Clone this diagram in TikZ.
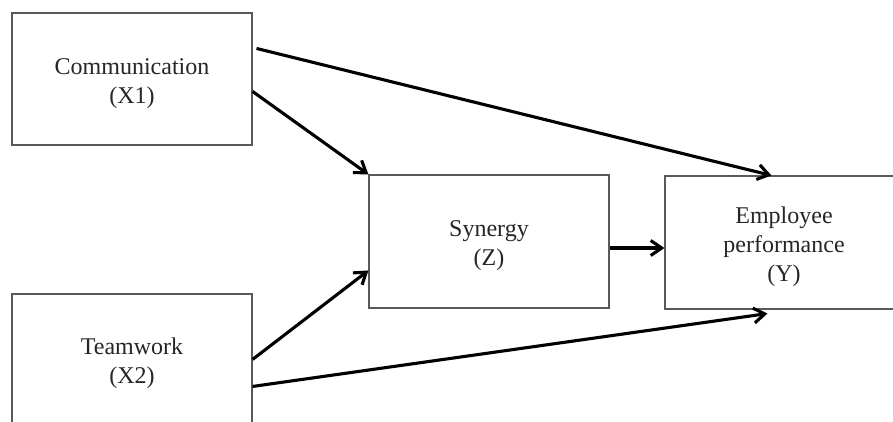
\documentclass[tikz,border=0pt]{standalone}
\usepackage{fontspec}
\setmainfont{Liberation Serif}
\usetikzlibrary{arrows.meta,calc}
\newcommand\mytopstrut{\rule{0pt}{25pt}}
\begin{document}
\begin{tikzpicture}[x=1pt,y=-1pt,
  box/.style={draw=black!65, line width=1.1pt, rectangle, inner sep=0pt, align=center,
    font=\fontsize{24}{29}\selectfont, text=black!85},
  conn/.style={line width=3.1pt, black, -{Straight Barb[length=11pt,width=15pt,line width=3.1pt]}}]
\useasboundingbox (0,0) rectangle (893,421);
\clip (0,0) rectangle (893,421);
\fill[white] (0,0) rectangle (893,421);
\node[box, minimum width=240pt, minimum height=132pt] (c) at (132,79) {\mytopstrut Communication\\(X1)};
\node[box, minimum width=240pt, minimum height=130pt] (t) at (132,359) {\mytopstrut Teamwork\\(X2)};
\node[box, minimum width=240pt, minimum height=133pt] (z) at (489,241.5) {\mytopstrut Synergy\\(Z)};
\node[box, minimum width=238pt, minimum height=133pt] (y) at (784,242.5) {\mytopstrut Employee\\performance\\(Y)};
\draw[conn] ([shift={(4pt,-36pt)}]c.north east) -- ([xshift=107pt]y.north west);
\draw[conn] ([yshift=-79pt]c.north east) -- (z.north west);
\draw[conn] ([yshift=-66pt]t.north east) -- ([yshift=-96pt]z.north west);
\draw[conn] ([yshift=-93pt]t.north east) -- ([shift={(103pt,-4pt)}]y.south west);
\draw[conn] ([yshift=-6.5pt]z.east) -- ([yshift=-6.5pt]z.east -| y.west);
\end{tikzpicture}
\end{document}
